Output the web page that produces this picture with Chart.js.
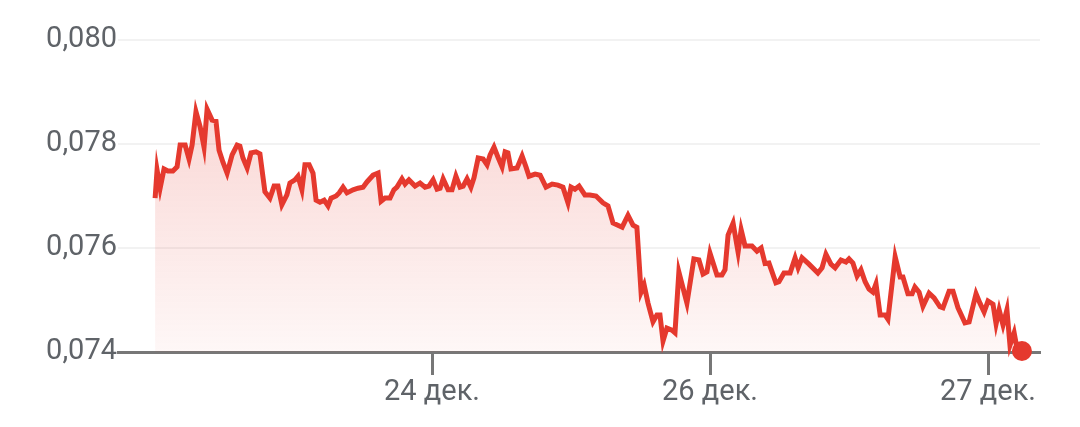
<!DOCTYPE html>
<html lang="ru">
<head>
    <meta charset="UTF-8">
    <title>Курс</title>
    <script src="https://cdn.jsdelivr.net/npm/chart.js"></script>
    <style>
        html, body { margin: 0; padding: 0; background: #fff; }
        #wrap { width: 1080px; height: 427px; position: relative; }
    </style>
</head>
<body>
    <div id="wrap">
        <canvas id="rate-chart"></canvas>
    </div>

    <script>
        // position in trading days: 23 дек. = 0, 24 дек. = 1, 26 дек. = 2, 27 дек. = 3 (25th is a holiday)
        const times = [
            0.004, 0.011, 0.022, 0.036, 0.050, 0.068, 0.083, 0.094, 0.112, 0.126,
            0.137, 0.151, 0.166, 0.180, 0.191, 0.209, 0.223, 0.234, 0.248, 0.263,
            0.281, 0.299, 0.309, 0.320, 0.335, 0.349, 0.367, 0.381, 0.399, 0.417,
            0.432, 0.446, 0.460, 0.478, 0.489, 0.507, 0.518, 0.532, 0.543, 0.558,
            0.572, 0.583, 0.597, 0.612, 0.626, 0.637, 0.655, 0.666, 0.680, 0.694,
            0.716, 0.734, 0.752, 0.766, 0.788, 0.806, 0.817, 0.831, 0.849, 0.863,
            0.874, 0.892, 0.903, 0.917, 0.939, 0.957, 0.975, 0.989, 1.004, 1.018,
            1.029, 1.040, 1.058, 1.072, 1.086, 1.101, 1.112, 1.126, 1.140, 1.151,
            1.166, 1.184, 1.198, 1.209, 1.223, 1.237, 1.252, 1.263, 1.273, 1.284,
            1.306, 1.324, 1.338, 1.349, 1.371, 1.389, 1.410, 1.432, 1.453, 1.471,
            1.489, 1.500, 1.514, 1.529, 1.550, 1.568, 1.590, 1.615, 1.633, 1.651,
            1.684, 1.705, 1.723, 1.737, 1.752, 1.763, 1.777, 1.795, 1.809, 1.820,
            1.831, 1.845, 1.863, 1.874, 1.888, 1.917, 1.942, 1.960, 1.975, 1.989,
            2.000, 2.025, 2.043, 2.054, 2.065, 2.083, 2.101, 2.112, 2.126, 2.151,
            2.169, 2.184, 2.198, 2.212, 2.237, 2.248, 2.266, 2.288, 2.306, 2.317,
            2.331, 2.356, 2.388, 2.403, 2.417, 2.435, 2.450, 2.471, 2.489, 2.500,
            2.514, 2.529, 2.543, 2.558, 2.572, 2.586, 2.597, 2.612, 2.630, 2.640,
            2.666, 2.684, 2.694, 2.712, 2.727, 2.737, 2.752, 2.766, 2.788, 2.806,
            2.827, 2.838, 2.860, 2.874, 2.892, 2.917, 2.932, 2.957, 2.971, 2.986,
            3.000, 3.018, 3.029, 3.040, 3.054, 3.068, 3.079, 3.094, 3.104, 3.122
        ];
        const rates = [
            0.07696, 0.07750, 0.07715, 0.07752, 0.07748, 0.07748, 0.07756, 0.07798, 0.07798, 0.07771,
            0.07798, 0.07862, 0.07833, 0.07794, 0.07867, 0.07846, 0.07844, 0.07788, 0.07765, 0.07744,
            0.07779, 0.07798, 0.07796, 0.07773, 0.07754, 0.07783, 0.07785, 0.07781, 0.07708, 0.07696,
            0.07719, 0.07719, 0.07683, 0.07702, 0.07725, 0.07731, 0.07738, 0.07712, 0.07760, 0.07760,
            0.07744, 0.07692, 0.07688, 0.07692, 0.07681, 0.07696, 0.07700, 0.07706, 0.07717, 0.07706,
            0.07712, 0.07715, 0.07717, 0.07727, 0.07740, 0.07744, 0.07690, 0.07696, 0.07696, 0.07712,
            0.07717, 0.07733, 0.07723, 0.07731, 0.07719, 0.07725, 0.07717, 0.07719, 0.07731, 0.07713,
            0.07715, 0.07733, 0.07712, 0.07712, 0.07738, 0.07717, 0.07719, 0.07733, 0.07717, 0.07735,
            0.07773, 0.07771, 0.07760, 0.07779, 0.07794, 0.07775, 0.07756, 0.07785, 0.07783, 0.07752,
            0.07754, 0.07777, 0.07756, 0.07738, 0.07742, 0.07740, 0.07717, 0.07723, 0.07721, 0.07717,
            0.07687, 0.07717, 0.07713, 0.07719, 0.07702, 0.07702, 0.07700, 0.07687, 0.07681, 0.07648,
            0.07640, 0.07663, 0.07644, 0.07640, 0.07515, 0.07529, 0.07494, 0.07458, 0.07471, 0.07471,
            0.07421, 0.07446, 0.07442, 0.07437, 0.07554, 0.07494, 0.07579, 0.07577, 0.07550, 0.07554,
            0.07590, 0.07548, 0.07548, 0.07558, 0.07625, 0.07648, 0.07592, 0.07635, 0.07604, 0.07604,
            0.07594, 0.07600, 0.07570, 0.07571, 0.07533, 0.07535, 0.07552, 0.07552, 0.07581, 0.07562,
            0.07581, 0.07569, 0.07552, 0.07562, 0.07588, 0.07569, 0.07562, 0.07577, 0.07573, 0.07579,
            0.07571, 0.07546, 0.07558, 0.07535, 0.07521, 0.07515, 0.07531, 0.07471, 0.07471, 0.07463,
            0.07583, 0.07544, 0.07544, 0.07512, 0.07512, 0.07525, 0.07515, 0.07488, 0.07513, 0.07504,
            0.07487, 0.07485, 0.07517, 0.07517, 0.07485, 0.07456, 0.07458, 0.07512, 0.07494, 0.07477,
            0.07498, 0.07492, 0.07454, 0.07481, 0.07452, 0.07481, 0.07413, 0.07437, 0.07408, 0.07402
        ];
        const tickDays = [1, 2, 3];
        const tickLabels = ["24 дек.", "26 дек.", "27 дек."];
        const yTicks = [0.074, 0.076, 0.078, 0.080];

        const lineRed = "#e5392e";
        const textGrey = "#5f6368";

        const points = times.map((t, i) => ({ x: t, y: rates[i] }));

        const ctx = document.getElementById("rate-chart").getContext("2d");
        new Chart(ctx, {
            type: "line",
            data: {
                datasets: [{
                    data: points,
                    borderColor: lineRed,
                    borderWidth: 5,
                    borderJoinStyle: "miter",
                    tension: 0,
                    fill: "start",
                    clip: false,
                    backgroundColor: function(context) {
                        const area = context.chart.chartArea;
                        if (!area) return "rgba(229,57,46,0.12)";
                        const g = context.chart.ctx.createLinearGradient(0, area.top + 70, 0, area.bottom);
                        g.addColorStop(0, "rgba(229,57,46,0.20)");
                        g.addColorStop(1, "rgba(229,57,46,0.04)");
                        return g;
                    },
                    pointRadius: c => c.dataIndex === rates.length - 1 ? 10 : 0,
                    pointBackgroundColor: lineRed,
                    pointBorderWidth: 0,
                    pointHoverRadius: 0
                }]
            },
            options: {
                responsive: true,
                maintainAspectRatio: false,
                animation: false,
                layout: {
                    autoPadding: false,
                    padding: { top: 40, right: 40, left: 0, bottom: 0 }
                },
                plugins: {
                    legend: { display: false },
                    tooltip: { enabled: false }
                },
                scales: {
                    x: {
                        type: "linear",
                        min: -0.1295,
                        max: 3.187,
                        afterBuildTicks: scale => {
                            scale.ticks = tickDays.map(v => ({ value: v }));
                        },
                        afterFit: scale => { scale.height = 75; },
                        grid: {
                            drawOnChartArea: false,
                            drawTicks: true,
                            tickLength: 23,
                            tickWidth: 3,
                            color: "#777777"
                        },
                        border: { display: true, color: "#777777", width: 3 },
                        ticks: {
                            autoSkip: false,
                            maxRotation: 0,
                            padding: 0,
                            color: textGrey,
                            font: { family: "Roboto", size: 29 },
                            callback: v => tickLabels[tickDays.indexOf(v)]
                        }
                    },
                    y: {
                        min: 0.074,
                        max: 0.080,
                        afterBuildTicks: scale => {
                            scale.ticks = yTicks.map(v => ({ value: v }));
                        },
                        afterFit: scale => { scale.width = 118; },
                        grid: {
                            drawTicks: false,
                            color: "#f2f2f2",
                            lineWidth: 2
                        },
                        border: { display: false },
                        ticks: {
                            padding: 1,
                            color: textGrey,
                            font: { family: "Roboto", size: 29 },
                            callback: v => v.toFixed(3).replace(".", ",")
                        }
                    }
                }
            }
        });
    </script>
</body>
</html>
